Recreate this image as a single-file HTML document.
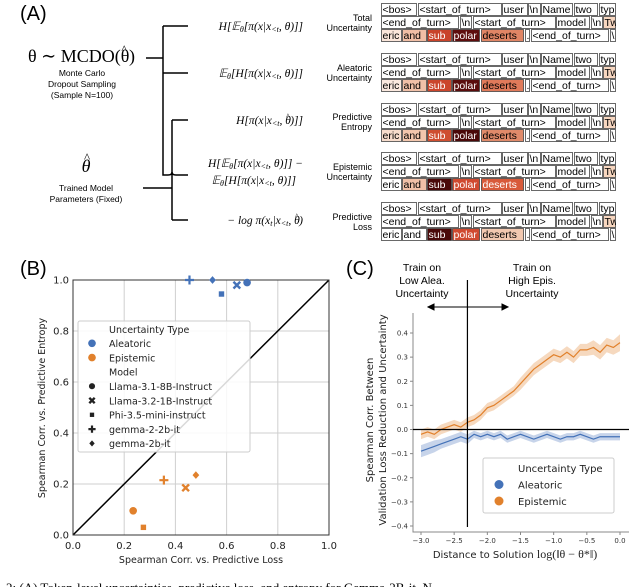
<!DOCTYPE html>
<html><head><meta charset="utf-8"><style>
html,body{margin:0;padding:0;background:#fff;width:640px;height:587px;overflow:hidden}
svg{display:block}
.ss{font-family:"Liberation Sans","DejaVu Sans",sans-serif}
.dv{font-family:"DejaVu Sans","Liberation Sans",sans-serif}
.sf{font-family:"Liberation Serif","DejaVu Serif",serif}
</style></head><body>
<svg id="fig" width="640" height="587" viewBox="0 0 640 587" xmlns="http://www.w3.org/2000/svg">
<g id="panelA">
<text x="20" y="20" class="ss" font-size="20">(A)</text>
<text x="28" y="62" class="sf" font-size="18">θ ∼ MCDO(θ<tspan dx="-8" dy="-9" font-size="12">^</tspan><tspan dx="2" dy="9">)</tspan></text>
<text x="82" y="76" class="ss" font-size="8.5" text-anchor="middle"><tspan x="82">Monte Carlo</tspan><tspan x="82" dy="11">Dropout Sampling</tspan><tspan x="82" dy="11">(Sample N=100)</tspan></text>
<text x="86" y="172" class="sf" font-size="18" font-style="italic" text-anchor="middle">θ</text>
<text x="87" y="162" class="sf" font-size="13" text-anchor="middle">^</text>
<text x="86" y="191" class="ss" font-size="8.5" text-anchor="middle"><tspan x="86">Trained Model</tspan><tspan x="86" dy="11">Parameters (Fixed)</tspan></text>
<g stroke="#000" stroke-width="1.5" fill="none">
<path d="M146 58H163M163 26V175H168M176 175H188M163 26H188M163 73H188"/>
<path d="M168 175Q172 175 172 172Q172 175 176 175"/>
<path d="M143 188H172M172 120V220M172 120H188M172 220H188"/>
</g>
<g class="sf" font-size="11.5" font-style="italic" text-anchor="end">
<text x="303" y="30">H[𝔼<tspan font-size="8" dy="2">θ</tspan><tspan dy="-2">[π(x|x</tspan><tspan font-size="8" dy="2">&lt;t</tspan><tspan dy="-2">, θ)]]</tspan></text>
<text x="303" y="77">𝔼<tspan font-size="8" dy="2">θ</tspan><tspan dy="-2">[H[π(x|x</tspan><tspan font-size="8" dy="2">&lt;t</tspan><tspan dy="-2">, θ)]]</tspan></text>
<text x="303" y="124">H[π(x|x<tspan font-size="8" dy="2">&lt;t</tspan><tspan dy="-2">, θ</tspan><tspan dx="-5" dy="-5" font-size="8">^</tspan><tspan dx="1" dy="5">)]]</tspan></text>
<text x="303" y="167">H[𝔼<tspan font-size="8" dy="2">θ</tspan><tspan dy="-2">[π(x|x</tspan><tspan font-size="8" dy="2">&lt;t</tspan><tspan dy="-2">, θ)]] −</tspan></text>
<text x="296" y="184">𝔼<tspan font-size="8" dy="2">θ</tspan><tspan dy="-2">[H[π(x|x</tspan><tspan font-size="8" dy="2">&lt;t</tspan><tspan dy="-2">, θ)]]</tspan></text>
<text x="303" y="224">− log π(x<tspan font-size="8" dy="2">t</tspan><tspan dy="-2">|x</tspan><tspan font-size="8" dy="2">&lt;t</tspan><tspan dy="-2">, θ</tspan><tspan dx="-5" dy="-5" font-size="8">^</tspan><tspan dx="1" dy="5">)</tspan></text>
</g>
<g class="ss" font-size="9" text-anchor="end">
<text x="372" y="21">Total</text><text x="372" y="31">Uncertainty</text>
<text x="372" y="71">Aleatoric</text><text x="372" y="81">Uncertainty</text>
<text x="372" y="120">Predictive</text><text x="372" y="130">Entropy</text>
<text x="372" y="170">Epistemic</text><text x="372" y="180">Uncertainty</text>
<text x="372" y="220">Predictive</text><text x="372" y="230">Loss</text>
</g>
<g id="tokens"></g>
</g>
<g id="panelB">
<text x="20" y="275" class="ss" font-size="20">(B)</text>
</g>
<g id="panelC">
<text x="346" y="275" class="ss" font-size="20">(C)</text>
<text class="ss" font-size="10.5" text-anchor="middle"><tspan x="422" y="271">Train on</tspan><tspan x="422" y="284">Low Alea.</tspan><tspan x="422" y="297">Uncertainty</tspan></text>
<text class="ss" font-size="10.5" text-anchor="middle"><tspan x="532" y="271">Train on</tspan><tspan x="532" y="284">High Epis.</tspan><tspan x="532" y="297">Uncertainty</tspan></text>
<g stroke="#000" stroke-width="1" fill="#000">
<line x1="431" y1="307" x2="505" y2="307"/>
<path d="M428 307l6 -3v6z M508 307l-6 -3v6z"/>
</g>
</g>
<text x="6" y="592" class="sf" font-size="13">2: (A) Token-level uncertainties, predictive loss, and entropy for Gemma-2B-it. N</text>
</svg>
<script>
const NS="http://www.w3.org/2000/svg";
function mk(tag,attrs,parent){const e=document.createElementNS(NS,tag);for(const k in attrs)e.setAttribute(k,attrs[k]);if(parent)parent.appendChild(e);return e;}

// ---- Panel A tokens ----
const tokRow1=[["<bos>",381,417],["<start_of_turn>",418,502],["user",502,528],["\\n",528,541],["Name",541,573],["two",574,598],["typ",599,616]];
const tokRow2=[["<end_of_turn>",381,459],["\\n",460,472],["<start_of_turn>",473,556],["model",556,590],["\\n",591,603],["Tw",603,616]];
const tokRow3=[["eric",381,402],["and",402,427],["sub",427,452],["polar",452,480],["deserts",481,524],[".",525,530],["<end_of_turn>",531,609],["\\",610,616]];
const groupColors=[
 {eric:"#fbe6da",and:"#f0bea5",sub:"#c9432a",polar:"#5e0d0d",deserts:"#e08565",Tw:"#f7d6bf"},
 {eric:"#fbe9df",and:"#f0c0a8",sub:"#cb462c",polar:"#5a0c0c",deserts:"#e07a5a",Tw:"#f7d6bf"},
 {eric:"#f7dccc",and:"#f2c6ad",sub:"#cf4e30",polar:"#4a0808",deserts:"#e08a6a",Tw:"#f7d6bf"},
 {eric:"#ffffff",and:"#f0c0a8",sub:"#4a0808",polar:"#d04a30",deserts:"#d85a3a",Tw:"#f7d6bf"},
 {eric:"#ffffff",and:"#ffffff",sub:"#4a0808",polar:"#d04a30",deserts:"#f2c8b0",Tw:"#f7d6bf"}];
const groupTops=[3,53,103,152,202];
const tg=document.getElementById('tokens');
groupTops.forEach((gy,gi)=>{
  const g=mk('g',{},tg);
  
  
  [tokRow1,tokRow2,tokRow3].forEach((row,ri)=>{
    const y=gy+ri*13;
    row.forEach(t=>{
      const c=groupColors[gi][t[0]]||"#ffffff";
      const r=mk('rect',{x:t[1]+0.5,y:y+0.5,width:t[2]-t[1]-1,height:12,fill:c,stroke:"#444","stroke-width":0.8},g);
      
      
      const dark=(c==="#5e0d0d"||c==="#5a0c0c"||c==="#4a0808"||c.startsWith("#c")||c.startsWith("#d0")||c==="#d85a3a"||c==="#d04a30");
      const tx=mk('text',{x:t[1]+1.5,y:y+10,"font-size":10.5,fill:dark?"#fff":"#000",class:"ss"},g);
      tx.textContent=t[0];
      
      
    });
  });
  mk('rect',{x:616,y:gy,width:30,height:40,fill:"#fff"},g);
});

// ---- Panel B scatter ----
const bSeries=["Aleatoric","Epistemic"];
const bModels=["Llama-3.1-8B-Instruct","Llama-3.2-1B-Instruct","Phi-3.5-mini-instruct","gemma-2-2b-it","gemma-2b-it"];
const bShapes=["circle","x","square","plus","diamond"];
const aleaLoss=[0.68,0.64,0.58,0.455,0.545];
const aleaEnt=[0.99,0.98,0.945,1.0,1.0];
const episLoss=[0.235,0.44,0.275,0.355,0.48];
const episEnt=[0.095,0.185,0.03,0.215,0.235];
const bTicks=[0.0,0.2,0.4,0.6,0.8,1.0];
const bTickLabels=["0.0","0.2","0.4","0.6","0.8","1.0"];
const BX0=73,BX1=329,BY0=535,BY1=280;
const bx=v=>BX0+(BX1-BX0)*v, by=v=>BY0-(BY0-BY1)*v;
const pB=document.getElementById('panelB');
const gridB=mk('g',{stroke:"#cfcfcf","stroke-width":1},pB);

bTicks.forEach((t,i)=>{
  mk('line',{x1:bx(t),x2:bx(t),y1:BY1,y2:BY0},gridB);
  mk('line',{x1:BX0,x2:BX1,y1:by(t),y2:by(t)},gridB);
  const xl=mk('text',{x:bx(t),y:BY0+14,"text-anchor":"middle","font-size":10,class:"dv",fill:"#222"},pB);
  xl.textContent=bTickLabels[i];
  
  const yl=mk('text',{x:BX0-4,y:by(t)+3.5,"text-anchor":"end","font-size":10,class:"dv",fill:"#222"},pB);
  yl.textContent=bTickLabels[i];
  
});
const diag=mk('line',{x1:bx(0),y1:by(0),x2:bx(1),y2:by(1),stroke:"#000","stroke-width":1.5},pB);

const frB=mk('rect',{x:BX0,y:BY1,width:BX1-BX0,height:BY0-BY1,fill:"none",stroke:"#333","stroke-width":1},pB);

function marker(parent,shape,cx,cy,col,s){
  let e;
  if(shape==="circle") e=mk('circle',{cx:cx,cy:cy,r:s*0.85,fill:col},parent);
  else if(shape==="square") e=mk('rect',{x:cx-s*0.6,y:cy-s*0.6,width:s*1.2,height:s*1.2,fill:col},parent);
  else if(shape==="diamond") e=mk('path',{d:`M${cx} ${cy-s*0.85}L${cx+s*0.75} ${cy}L${cx} ${cy+s*0.85}L${cx-s*0.75} ${cy}Z`,fill:col},parent);
  else if(shape==="plus") e=mk('path',{d:`M${cx-s} ${cy}H${cx+s}M${cx} ${cy-s}V${cy+s}`,stroke:col,"stroke-width":2.2,fill:"none"},parent);
  else e=mk('path',{d:`M${cx-s*0.75} ${cy-s*0.75}L${cx+s*0.75} ${cy+s*0.75}M${cx+s*0.75} ${cy-s*0.75}L${cx-s*0.75} ${cy+s*0.75}`,stroke:col,"stroke-width":2.4,fill:"none"},parent);
  return e;
}
const BLUE="#4472b8",ORANGE="#e1812c";
bModels.forEach((m,i)=>{
  const e1=marker(pB,bShapes[i],bx(aleaLoss[i]),by(aleaEnt[i]),BLUE,4.5);
  
  const e2=marker(pB,bShapes[i],bx(episLoss[i]),by(episEnt[i]),ORANGE,4.5);
  
});
const legB=mk('g',{},pB);

mk('rect',{x:78,y:321,width:172,height:131,fill:"#fff","fill-opacity":0.85,stroke:"#ccc",rx:2},legB);
const legItems=[["Uncertainty Type",null,null],["Aleatoric","circle",BLUE],["Epistemic","circle",ORANGE],["Model",null,null]].concat(bModels.map((m,i)=>[m,bShapes[i],"#222"]));
legItems.forEach((it,i)=>{
  const y=329+i*14.3;
  if(it[1]){const mm=marker(legB,it[1],92,y,it[2],it[2]==="#222"?3.6:4.5);}
  const t=mk('text',{x:109,y:y+3.8,"font-size":9.5,class:"dv",fill:"#222"},legB);
  t.textContent=it[0];
  
});
const xtB=mk('text',{x:201,y:563,"text-anchor":"middle","font-size":9.5,class:"dv",fill:"#222"},pB);
xtB.textContent="Spearman Corr. vs. Predictive Loss";

const ytB=mk('text',{x:0,y:0,"text-anchor":"middle","font-size":9.5,class:"dv",fill:"#222",transform:"translate(45,408) rotate(-90)"},pB);
ytB.textContent="Spearman Corr. vs. Predictive Entropy";


// ---- Panel C lines ----
const cX=[-3.0,-2.9,-2.8,-2.7,-2.6,-2.5,-2.4,-2.3,-2.2,-2.1,-2.0,-1.9,-1.8,-1.7,-1.6,-1.5,-1.4,-1.3,-1.2,-1.1,-1.0,-0.9,-0.8,-0.7,-0.6,-0.5,-0.4,-0.3,-0.2,-0.1,0.0];
const cEpis=[-0.02,-0.01,-0.02,0.0,0.01,0.02,0.01,0.03,0.04,0.06,0.09,0.10,0.12,0.14,0.16,0.19,0.22,0.25,0.27,0.29,0.31,0.30,0.32,0.30,0.33,0.33,0.34,0.32,0.35,0.34,0.36];
const cAlea=[-0.09,-0.08,-0.07,-0.06,-0.05,-0.04,-0.03,-0.04,-0.02,-0.03,-0.02,-0.03,-0.02,-0.04,-0.03,-0.02,-0.03,-0.04,-0.03,-0.02,-0.03,-0.04,-0.03,-0.03,-0.02,-0.03,-0.04,-0.03,-0.03,-0.03,-0.03];
const cEpisErr=[0.02,0.02,0.02,0.02,0.02,0.02,0.02,0.02,0.02,0.02,0.02,0.02,0.02,0.02,0.02,0.025,0.025,0.025,0.025,0.025,0.025,0.025,0.025,0.025,0.025,0.025,0.03,0.03,0.03,0.03,0.035];
const cAleaErr=[0.025,0.025,0.025,0.02,0.02,0.02,0.02,0.02,0.015,0.015,0.015,0.015,0.015,0.015,0.015,0.015,0.015,0.015,0.015,0.015,0.015,0.015,0.015,0.015,0.015,0.015,0.015,0.015,0.015,0.015,0.015];
const cXTicks=[-3.0,-2.5,-2.0,-1.5,-1.0,-0.5,0.0];
const cXTickLabels=["−3.0","−2.5","−2.0","−1.5","−1.0","−0.5","0.0"];
const cYTicks=[0.4,0.3,0.2,0.1,0.0,-0.1,-0.2,-0.3,-0.4];
const cYTickLabels=["0.4","0.3","0.2","0.1","0.0","−0.1","−0.2","−0.3","−0.4"];
const splitX=-2.3;
const CX0=421,CX1=620,CYp=333,CYn=526;
const cx=v=>CX0+(CX1-CX0)*(v+3)/3, cy=v=>CYp+(CYn-CYp)*(0.4-v)/0.8;
const pC=document.getElementById('panelC');
const spines=mk('path',{d:`M413 313V532H629`,stroke:"#888","stroke-width":1,fill:"none"},pC);

cXTicks.forEach((t,i)=>{
  mk('line',{x1:cx(t),x2:cx(t),y1:532,y2:535,stroke:"#888"},pC);
  const l=mk('text',{x:cx(t),y:543,"text-anchor":"middle","font-size":7,class:"dv",fill:"#333"},pC);
  l.textContent=cXTickLabels[i];
  
});
cYTicks.forEach((t,i)=>{
  mk('line',{x1:410,x2:413,y1:cy(t),y2:cy(t),stroke:"#888"},pC);
  const l=mk('text',{x:408,y:cy(t)+2.5,"text-anchor":"end","font-size":7,class:"dv",fill:"#333"},pC);
  l.textContent=cYTickLabels[i];
  
});
function band(vals,err,col,name){
  let d="M"+cX.map((x,i)=>cx(x)+" "+cy(vals[i]+err[i])).join("L");
  d+="L"+cX.slice().reverse().map((x,j)=>{const i=cX.length-1-j;return cx(x)+" "+cy(vals[i]-err[i]);}).join("L")+"Z";
  const b=mk('path',{d:d,fill:col,"fill-opacity":0.3,stroke:"none"},pC);
  
  const l=mk('path',{d:"M"+cX.map((x,i)=>cx(x)+" "+cy(vals[i])).join("L"),fill:"none",stroke:col,"stroke-width":1.2},pC);
  
}
band(cAlea,cAleaErr,BLUE,'aleatoric');
band(cEpis,cEpisErr,ORANGE,'epistemic');
const zl=mk('line',{x1:413,x2:629,y1:cy(0),y2:cy(0),stroke:"#000","stroke-width":1.2},pC);

const vl=mk('line',{x1:cx(splitX),x2:cx(splitX),y1:280,y2:527,stroke:"#000","stroke-width":1.2},pC);

const legC=mk('g',{},pC);

mk('rect',{x:483,y:458,width:131,height:55,fill:"#fff",stroke:"#ccc",rx:2},legC);
[["Uncertainty Type",null],["Aleatoric",BLUE],["Epistemic",ORANGE]].forEach((it,i)=>{
  const y=468+i*16.5;
  if(it[1]){const c=mk('circle',{cx:499,cy:y,r:4.5,fill:it[1]},legC);}
  const t=mk('text',{x:518,y:y+3.8,"font-size":10,class:"dv",fill:"#222"},legC);
  t.textContent=it[0];
  
});
const xtC=mk('text',{x:515,y:558,"text-anchor":"middle","font-size":10,class:"dv",fill:"#222"},pC);
xtC.innerHTML='Distance to Solution <tspan font-family="Liberation Serif,serif" font-size="12">log(‖θ − θ*‖)</tspan>';

const ytC=mk('text',{x:0,y:0,"text-anchor":"middle","font-size":10,class:"dv",fill:"#222",transform:"translate(373,420) rotate(-90)"},pC);
ytC.innerHTML='<tspan x="0" dy="0">Spearman Corr. Between</tspan><tspan x="0" dy="13">Validation Loss Reduction and Uncertainty</tspan>';

</script>
</body></html>
